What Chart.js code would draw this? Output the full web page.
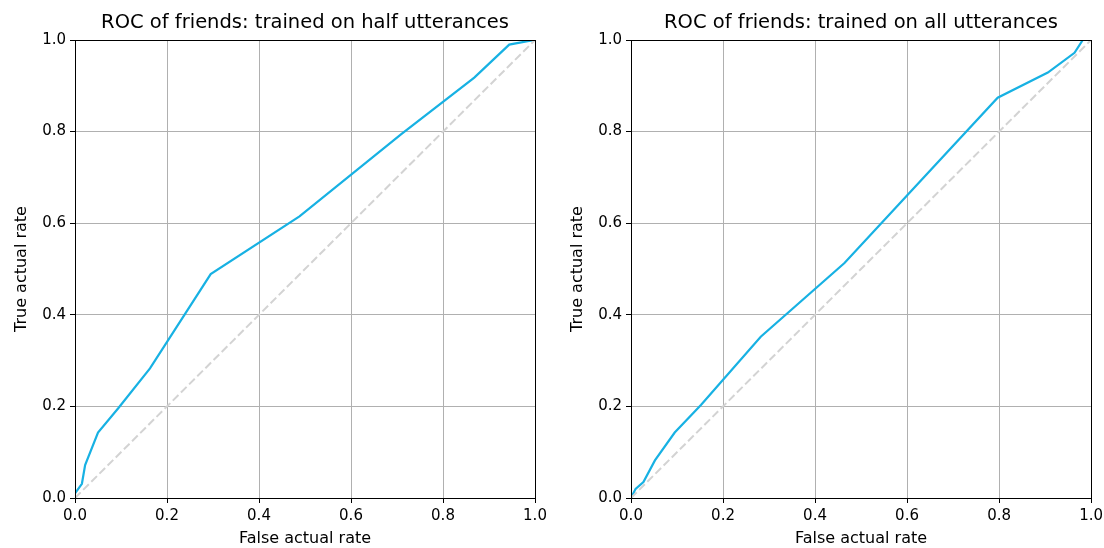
<!DOCTYPE html>
<html>
<head>
<meta charset="utf-8">
<script src="https://cdn.jsdelivr.net/npm/chart.js@4.4.1/dist/chart.umd.min.js"></script>
<style>
  html, body { margin: 0; padding: 0; background: #fff; overflow: hidden; }
  #wrap { position: relative; width: 1104px; height: 548px; overflow: hidden; }
  .panel { position: absolute; top: 0; height: 548px; }
</style>
</head>
<body>
<div id="wrap">
  <div class="panel" style="left:0; width:552px"><canvas id="left"></canvas></div>
  <div class="panel" style="left:552px; width:555px"><canvas id="right"></canvas></div>
</div>
<script>
// ROC points
const halfFpr = [0, 0.015, 0.022, 0.05, 0.094, 0.163, 0.295, 0.488, 0.71, 0.868, 0.944, 0.987, 1];
const halfTpr = [0.01, 0.031, 0.072, 0.143, 0.196, 0.283, 0.489, 0.615, 0.795, 0.918, 0.99, 0.998, 1];
const allFpr = [0, 0.01, 0.027, 0.052, 0.095, 0.152, 0.282, 0.464, 0.797, 0.906, 0.964, 0.982, 1];
const allTpr = [0, 0.02, 0.035, 0.082, 0.143, 0.203, 0.352, 0.513, 0.874, 0.929, 0.972, 1, 1];
const chanceX = [0, 1];
const chanceY = [0, 1];
const tickValues = [0, 0.2, 0.4, 0.6, 0.8, 1.0];

const titles = ['ROC of friends: trained on half utterances', 'ROC of friends: trained on all utterances'];
const xLabel = 'False actual rate';
const yLabel = 'True actual rate';

const FONT = "'DejaVu Sans', sans-serif";

function pts(xs, ys) {
  return xs.map((x, i) => ({ x: x, y: ys[i] }));
}

// matplotlib draws all four spines
const spines = {
  id: 'spines',
  afterDraw(chart) {
    const a = chart.chartArea;
    const ctx = chart.ctx;
    ctx.save();
    ctx.strokeStyle = '#000';
    ctx.lineWidth = 1;
    ctx.strokeRect(Math.round(a.left) + 0.5, Math.round(a.top) + 0.5, Math.round(a.right - a.left), Math.round(a.bottom - a.top));
    ctx.restore();
  }
};

function axis(label, fitSize, horizontal, titlePad) {
  return {
    type: 'linear',
    min: 0,
    max: 1,
    afterBuildTicks: (s) => { s.ticks = tickValues.map(v => ({ value: v })); },
    afterFit: (s) => { if (horizontal) s.height = fitSize; else s.width = fitSize; },
    ticks: {
      color: '#000',
      font: { family: FONT, size: 15 },
      padding: 4,
      autoSkip: false,
      maxRotation: 0,
      callback: (v) => Number(v).toFixed(1)
    },
    grid: { color: '#b0b0b0', lineWidth: 1, tickColor: '#000', tickLength: 5 },
    border: { color: '#000', width: 1 },
    title: {
      display: true,
      text: label,
      color: '#000',
      font: { family: FONT, size: 16 },
      padding: titlePad
    }
  };
}

function makeChart(id, title, fpr, tpr, yWidth, rightPad, yTitlePad) {
  new Chart(document.getElementById(id), {
    type: 'scatter',
    data: {
      datasets: [
        {
          data: pts(chanceX, chanceY),
          showLine: true,
          borderColor: '#d3d3d3',
          borderWidth: 2,
          borderDash: [8, 3.5],
          pointRadius: 0
        },
        {
          data: pts(fpr, tpr),
          showLine: true,
          borderColor: '#17b1e3',
          borderWidth: 2.2,
          pointRadius: 0
        }
      ]
    },
    options: {
      responsive: true,
      maintainAspectRatio: false,
      animation: false,
      layout: { padding: { left: 0, right: rightPad, top: 0, bottom: 0 } },
      plugins: {
        legend: { display: false },
        tooltip: { enabled: false },
        title: {
          display: true,
          text: title,
          fullSize: false,
          color: '#000',
          font: { family: FONT, size: 19.5, weight: 'normal' },
          padding: { top: 11, bottom: 5.6 }
        }
      },
      scales: {
        x: axis(xLabel, 50, true, { top: 0, bottom: 0 }),
        y: axis(yLabel, yWidth, false, { top: yTitlePad, bottom: 0 })
      }
    },
    plugins: [spines]
  });
}

makeChart('left', titles[0], halfFpr, halfTpr, 75, 17, 12);
makeChart('right', titles[1], allFpr, allTpr, 79, 13, 16);
</script>
</body>
</html>
